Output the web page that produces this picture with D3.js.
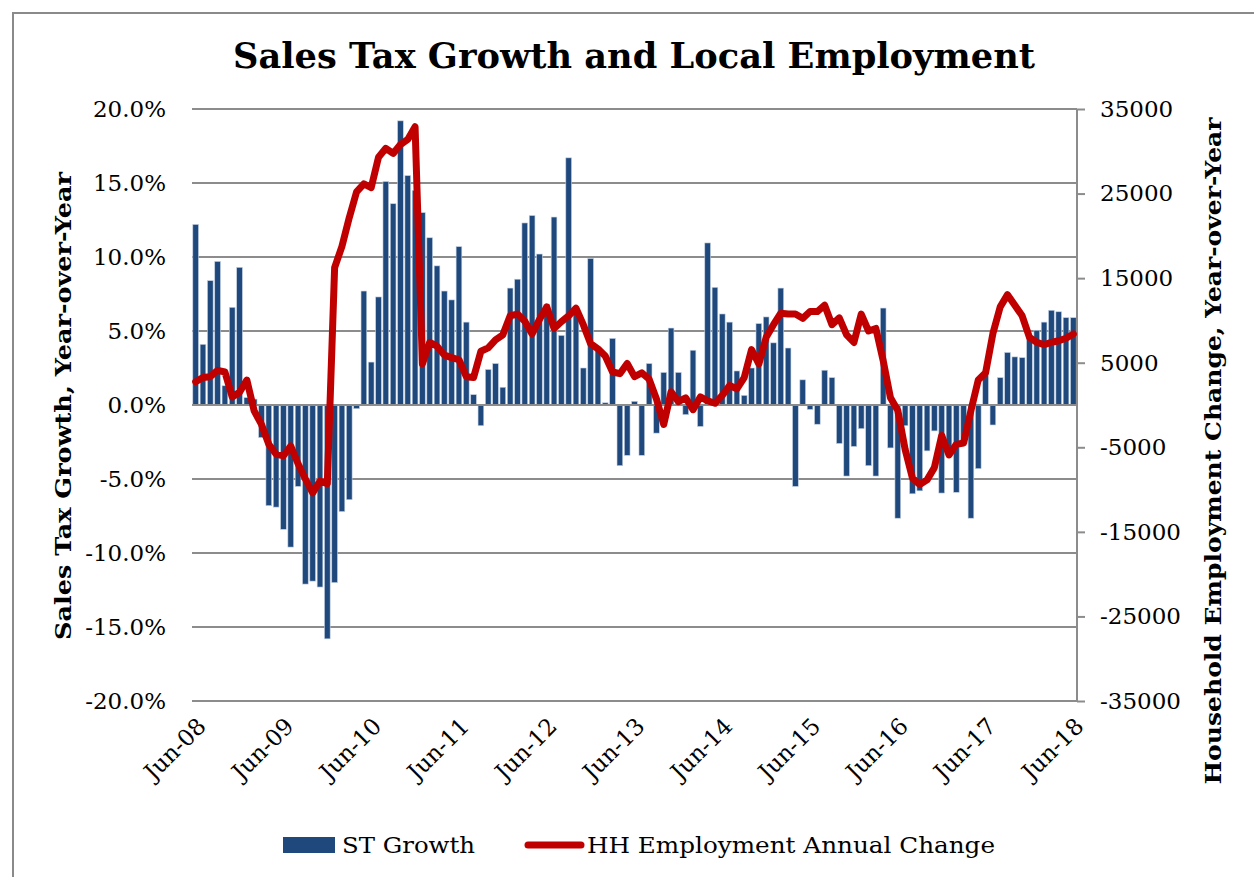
<!DOCTYPE html>
<html>
<head>
<meta charset="utf-8">
<script src="https://cdn.jsdelivr.net/npm/d3@7"></script>
<style>
  body { margin: 0; background: #fff; }
  svg { display: block; }
  text { font-family: "DejaVu Serif", "Liberation Serif", serif; fill: #000; }
</style>
</head>
<body>
<svg id="chart" width="1254" height="877"></svg>
<script>
// Sales tax growth, year-over-year (%), monthly Jun-08 .. Jun-18
const stGrowth = [
  12.2, 4.1, 8.4, 9.7, 1.3, 6.6, 9.3, 0.5, 0.4, -2.2,
  -6.8, -6.9, -8.4, -9.6, -5.5, -12.1, -11.9, -12.3, -15.8, -12.0,
  -7.2, -6.4, -0.25, 7.7, 2.9, 7.3, 15.1, 13.6, 19.2, 15.5,
  14.5, 13.0, 11.3, 9.4, 7.7, 7.1, 10.7, 5.6, 0.7, -1.4,
  2.4, 2.8, 1.2, 7.9, 8.5, 12.3, 12.8, 10.2, 6.8, 12.7,
  4.7, 16.7, 6.3, 2.5, 9.9, 3.9, 0.15, 4.5, -4.1, -3.4,
  0.25, -3.4, 2.8, -1.9, 2.2, 5.2, 2.2, -0.65, 3.7, -1.45,
  10.95, 7.95, 6.15, 5.6, 2.3, 0.65, 2.5, 5.5, 5.95, 4.2,
  7.9, 3.85, -5.5, 1.7, -0.3, -1.3, 2.35, 1.85, -2.6, -4.8,
  -2.8, -1.6, -4.1, -4.8, 6.55, -2.9, -7.65, -1.4, -6.0, -5.8,
  -3.1, -1.75, -5.95, -3.0, -5.9, -2.5, -7.65, -4.3, 2.05, -1.35,
  1.85, 3.55, 3.25, 3.2, 4.7, 5.05, 5.6, 6.4, 6.3, 5.9,
  5.9
];

// Household employment, annual change (persons)
const hhChange = [
  2750, 3250, 3350, 4100, 3900, 950, 1500, 2950, -700, -2300,
  -4650, -5800, -6000, -4850, -6950, -8750, -10400, -9000, -9300, 16250,
  18750, 22150, 25200, 26150, 25700, 29300, 30350, 29750, 30800, 31400,
  32900, 4850, 7400, 6950, 5900, 5600, 5350, 3350, 3250, 6350,
  6750, 7700, 8300, 10550, 10750, 9900, 8400, 10100, 11600, 9050,
  9850, 10550, 11450, 9500, 7250, 6650, 5800, 3900, 3700, 4900,
  3350, 3800, 3050, 700, -2300, 1550, 400, 850, -550, 950,
  500, 200, 1150, 2300, 1900, 3250, 6550, 4850, 8000, 9500,
  10850, 10750, 10750, 10250, 11050, 11050, 11800, 9500, 10300, 8300,
  7400, 10750, 8750, 9050, 5250, 850, -650, -5250, -8650, -9400,
  -8850, -7400, -3600, -5900, -4650, -4500, -650, 2950, 3800, 8450,
  11600, 13050, 11800, 10550, 8000, 7400, 7150, 7400, 7600, 7900,
  8400
];

const firstMonth = new Date(2008, 5, 1);
const months = d3.timeMonth.range(firstMonth, d3.timeMonth.offset(firstMonth, stGrowth.length));

const leftTicks = [-20, -15, -10, -5, 0, 5, 10, 15, 20];
const rightTicks = [-35000, -25000, -15000, -5000, 5000, 15000, 25000, 35000];
const xTickLabels = ["Jun-08", "Jun-09", "Jun-10", "Jun-11", "Jun-12", "Jun-13",
                     "Jun-14", "Jun-15", "Jun-16", "Jun-17", "Jun-18"];

const titleText = "Sales Tax Growth and Local Employment";
const leftTitle = "Sales Tax Growth, Year-over-Year";
const rightTitle = "Household Employment Change, Year-over-Year";
const seriesNames = ["ST Growth", "HH Employment Annual Change"];

const BLUE = "#1f497d";
const RED = "#c00000";
const GRID = "#8c8c8c";

// plain hyphen for negative numbers
const fmtPct = d => d3.format(".1f")(d).replace("\u2212", "-") + "%";
const fmtInt = d => d3.format("d")(d).replace("\u2212", "-");

const svg = d3.select("#chart");
const plot = { left: 192, right: 1077, top: 109, bottom: 701 };

// frame around the chart area
svg.append("path")
  .attr("d", `M13,877 L13,13 L1254,13`)
  .attr("fill", "none").attr("stroke", "#8a8a8a").attr("stroke-width", 2);

const x = d3.scaleBand()
  .domain(months)
  .range([plot.left, plot.right])
  .paddingInner(0.22)
  .paddingOuter(0.11);

const yL = d3.scaleLinear().domain([-20, 20]).range([plot.bottom, plot.top]);
const yR = d3.scaleLinear().domain([-35000, 35000]).range([plot.bottom, plot.top]);

// horizontal gridlines
svg.append("g").selectAll("line")
  .data(leftTicks)
  .join("line")
  .attr("x1", plot.left).attr("x2", plot.right)
  .attr("y1", d => yL(d)).attr("y2", d => yL(d))
  .attr("stroke", GRID).attr("stroke-width", 2);

// left axis labels
const axL = svg.append("g")
  .attr("transform", `translate(${plot.left},0)`)
  .call(d3.axisLeft(yL).tickValues(leftTicks).tickSize(0).tickPadding(26)
    .tickFormat(fmtPct));
axL.select(".domain").remove();
axL.selectAll("text").attr("font-size", 23).style("font-family", "DejaVu Serif");

// bars
svg.append("g").selectAll("rect")
  .data(months.map((m, i) => ({ m, v: stGrowth[i] })))
  .join("rect")
  .attr("x", d => x(d.m))
  .attr("width", x.bandwidth())
  .attr("y", d => yL(Math.max(0, d.v)))
  .attr("height", d => Math.abs(yL(d.v) - yL(0)))
  .attr("fill", BLUE)
  .attr("stroke", "#c4d1e2")
  .attr("stroke-width", 0.6);

// zero line over bars
svg.append("line")
  .attr("x1", plot.left).attr("x2", plot.right)
  .attr("y1", yL(0)).attr("y2", yL(0))
  .attr("stroke", GRID).attr("stroke-width", 2);

// right axis
const axR = svg.append("g")
  .attr("transform", `translate(${plot.right},0)`)
  .call(d3.axisRight(yR).tickValues(rightTicks).tickSize(8).tickPadding(15)
    .tickFormat(fmtInt));
axR.select(".domain").attr("stroke", GRID).attr("stroke-width", 2)
  .attr("d", `M0,${plot.top}V${plot.bottom}`);
axR.selectAll(".tick line").attr("stroke", GRID).attr("stroke-width", 2);
axR.selectAll("text").attr("font-size", 23).style("font-family", "DejaVu Serif");

// x axis (category labels)
const juneMonths = months.filter(m => m.getMonth() === 5);
const axX = svg.append("g")
  .attr("transform", `translate(0,${plot.bottom})`)
  .call(d3.axisBottom(x).tickValues(juneMonths).tickSize(0)
    .tickFormat((d, i) => xTickLabels[i]));
axX.select(".domain").remove();
axX.selectAll("text")
  .attr("font-size", 23)
  .style("font-family", "DejaVu Serif")
  .attr("x", 0).attr("y", 0).attr("dy", "0.35em")
  .attr("transform", "translate(6,21) rotate(-45)")
  .style("text-anchor", "end");

// employment line
const line = d3.line()
  .x((d, i) => x(months[i]) + x.bandwidth() / 2)
  .y(d => yR(d));
svg.append("path")
  .datum(hhChange)
  .attr("d", line)
  .attr("fill", "none")
  .attr("stroke", RED)
  .attr("stroke-width", 7)
  .attr("stroke-linejoin", "round")
  .attr("stroke-linecap", "round");

// title
svg.append("text")
  .attr("x", 634).attr("y", 68)
  .attr("text-anchor", "middle")
  .attr("font-size", 36).attr("font-weight", "bold")
  .attr("textLength", 802).attr("lengthAdjust", "spacingAndGlyphs")
  .text(titleText);

// axis titles
svg.append("text")
  .attr("transform", `translate(71,406) rotate(-90)`)
  .attr("text-anchor", "middle")
  .attr("font-size", 23).attr("font-weight", "bold")
  .attr("textLength", 468).attr("lengthAdjust", "spacingAndGlyphs")
  .text(leftTitle);

svg.append("text")
  .attr("transform", `translate(1221,451) rotate(-90)`)
  .attr("text-anchor", "middle")
  .attr("font-size", 23).attr("font-weight", "bold")
  .attr("textLength", 667).attr("lengthAdjust", "spacingAndGlyphs")
  .text(rightTitle);

// legend
const legend = svg.append("g");
legend.append("rect")
  .attr("x", 283).attr("y", 837).attr("width", 52).attr("height", 16)
  .attr("fill", BLUE);
legend.append("text")
  .attr("x", 342).attr("y", 853)
  .attr("font-size", 23)
  .attr("textLength", 133).attr("lengthAdjust", "spacingAndGlyphs")
  .text(seriesNames[0]);
legend.append("line")
  .attr("x1", 528).attr("x2", 581).attr("y1", 845).attr("y2", 845)
  .attr("stroke", RED).attr("stroke-width", 7).attr("stroke-linecap", "round");
legend.append("text")
  .attr("x", 587).attr("y", 853)
  .attr("font-size", 23)
  .attr("textLength", 408).attr("lengthAdjust", "spacingAndGlyphs")
  .text(seriesNames[1]);
</script>
</body>
</html>
